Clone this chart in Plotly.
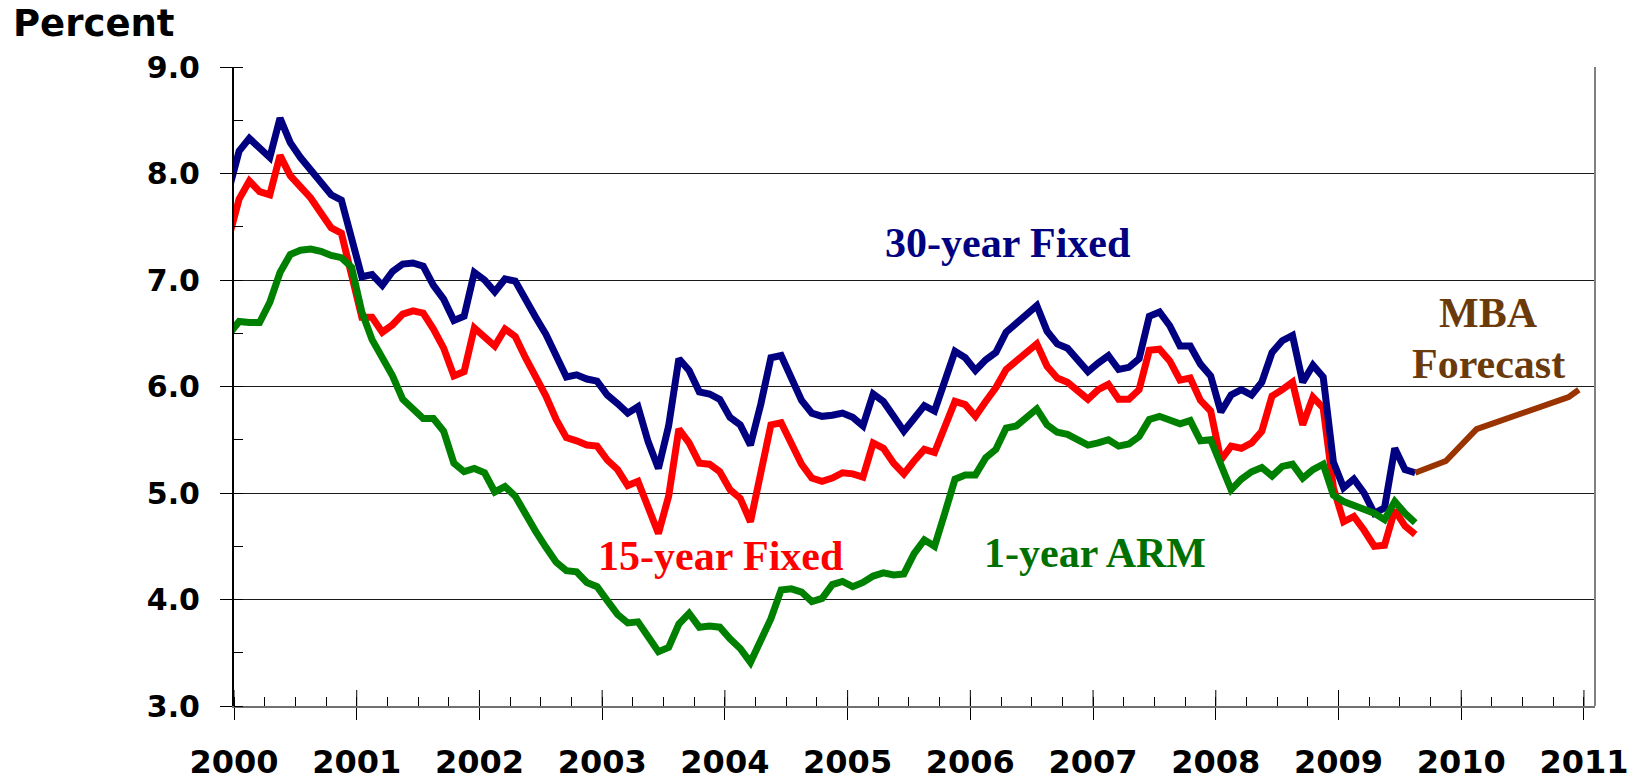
import plotly.graph_objects as go

# ---------------- data (monthly averages, Dec 1999 .. Aug 2009) ----------------
start_year = 1999
start_month = 12  # first value is December 1999 (clipped by the axis)

rate_30yr = [7.85,
    8.21, 8.33, 8.24, 8.15, 8.52, 8.29, 8.15, 8.03, 7.91, 7.80, 7.75, 7.38,
    7.03, 7.05, 6.95, 7.08, 7.15, 7.16, 7.13, 6.95, 6.82, 6.62, 6.66, 7.07,
    7.00, 6.89, 7.01, 6.99, 6.81, 6.65, 6.49, 6.29, 6.09, 6.11, 6.07, 6.05,
    5.92, 5.84, 5.75, 5.81, 5.48, 5.23, 5.63, 6.26, 6.15, 5.95, 5.93, 5.88,
    5.71, 5.64, 5.45, 5.83, 6.27, 6.29, 6.06, 5.87, 5.75, 5.72, 5.73, 5.75,
    5.71, 5.63, 5.93, 5.86, 5.72, 5.58, 5.70, 5.82, 5.77, 6.07, 6.33, 6.27,
    6.15, 6.25, 6.32, 6.51, 6.60, 6.68, 6.76, 6.52, 6.40, 6.36, 6.24, 6.14,
    6.22, 6.29, 6.16, 6.18, 6.26, 6.66, 6.70, 6.57, 6.38, 6.38, 6.21, 6.10,
    5.76, 5.92, 5.97, 5.92, 6.04, 6.32, 6.43, 6.48, 6.04, 6.20, 6.09, 5.29,
    5.05, 5.13, 5.00, 4.81, 4.86, 5.42, 5.22, 5.19]

rate_15yr = [7.40,
    7.76, 7.93, 7.83, 7.80, 8.17, 7.98, 7.88, 7.77, 7.63, 7.49, 7.44, 7.04,
    6.65, 6.65, 6.51, 6.58, 6.68, 6.71, 6.69, 6.54, 6.36, 6.10, 6.14, 6.55,
    6.47, 6.38, 6.54, 6.47, 6.27, 6.10, 5.91, 5.69, 5.52, 5.49, 5.45, 5.44,
    5.31, 5.22, 5.07, 5.11, 4.87, 4.62, 4.97, 5.60, 5.47, 5.28, 5.27, 5.20,
    5.03, 4.95, 4.73, 5.19, 5.64, 5.66, 5.46, 5.27, 5.14, 5.11, 5.14, 5.19,
    5.18, 5.15, 5.47, 5.42, 5.28, 5.18, 5.30, 5.41, 5.38, 5.63, 5.86, 5.83,
    5.72, 5.86, 5.99, 6.16, 6.23, 6.32, 6.40, 6.19, 6.08, 6.04, 5.96, 5.88,
    5.97, 6.02, 5.88, 5.88, 5.97, 6.34, 6.35, 6.24, 6.06, 6.08, 5.87, 5.77,
    5.31, 5.44, 5.42, 5.47, 5.58, 5.91, 5.97, 6.04, 5.64, 5.90, 5.80, 5.05,
    4.73, 4.78, 4.65, 4.50, 4.51, 4.84, 4.69, 4.61]

rate_arm = [6.49,
    6.61, 6.60, 6.60, 6.79, 7.07, 7.24, 7.28, 7.29, 7.27, 7.23, 7.21, 7.12,
    6.70, 6.44, 6.27, 6.10, 5.88, 5.80, 5.70, 5.70, 5.58, 5.28, 5.20, 5.23,
    5.19, 5.01, 5.06, 4.97, 4.79, 4.64, 4.49, 4.35, 4.27, 4.26, 4.16, 4.12,
    3.99, 3.86, 3.78, 3.79, 3.65, 3.51, 3.55, 3.77, 3.87, 3.74, 3.75, 3.74,
    3.63, 3.54, 3.41, 3.60, 3.82, 4.09, 4.10, 4.07, 3.98, 4.01, 4.14, 4.17,
    4.12, 4.16, 4.22, 4.25, 4.23, 4.24, 4.43, 4.56, 4.50, 4.81, 5.13, 5.17,
    5.17, 5.33, 5.41, 5.61, 5.63, 5.71, 5.79, 5.64, 5.57, 5.55, 5.50, 5.45,
    5.47, 5.50, 5.44, 5.46, 5.53, 5.69, 5.72, 5.68, 5.65, 5.68, 5.49, 5.50,
    5.27, 5.03, 5.13, 5.20, 5.24, 5.16, 5.25, 5.27, 5.14, 5.22, 5.27, 4.98,
    4.92, 4.88, 4.85, 4.81, 4.75, 4.92, 4.81, 4.72]

# MBA forecast (month index counted from Jan 2000 = 0)
forecast_months = [115, 118, 121, 124, 127, 130, 131]
forecast_rate = [5.19, 5.30, 5.60, 5.70, 5.80, 5.90, 5.97]

year_ticks = [2000, 2001, 2002, 2003, 2004, 2005, 2006, 2007, 2008, 2009, 2010, 2011]
year_labels = [str(y) for y in year_ticks]
y_ticks = [3, 4, 5, 6, 7, 8, 9]
y_labels = ["3.0", "4.0", "5.0", "6.0", "7.0", "8.0", "9.0"]

# ---------------- positions (mid-month, decimal years) ----------------
def month_to_x(m):
    return 2000 + (m + 0.5) / 12.0

first_m = (start_year - 2000) * 12 + (start_month - 1)
x_hist = [month_to_x(first_m + i) for i in range(len(rate_30yr))]
x_fc = [month_to_x(m) for m in forecast_months]

NAVY = "#000080"
RED = "#FF0000"
GREEN = "#008000"
BROWN_LINE = "#993300"
BROWN_TEXT = "#6B3A0B"

fig = go.Figure()
fig.add_trace(go.Scatter(x=x_hist, y=rate_15yr, mode="lines", name="15-year Fixed",
                         line=dict(color=RED, width=7)))
fig.add_trace(go.Scatter(x=x_hist, y=rate_30yr, mode="lines", name="30-year Fixed",
                         line=dict(color=NAVY, width=7)))
fig.add_trace(go.Scatter(x=x_hist, y=rate_arm, mode="lines", name="1-year ARM",
                         line=dict(color=GREEN, width=7)))
fig.add_trace(go.Scatter(x=x_fc, y=forecast_rate, mode="lines", name="MBA Forecast",
                         line=dict(color=BROWN_LINE, width=6)))

L, R, T, B = 234, 53, 67, 75
W, H = 1648, 781
plot_h = H - T - B
plot_w = W - L - R

fig.update_layout(
    width=W, height=H, autosize=False,
    margin=dict(l=L, r=R, t=T, b=B, pad=0),
    paper_bgcolor="white", plot_bgcolor="white",
    showlegend=False,
    xaxis=dict(
        range=[2000, 2011.09], tickmode="array", tickvals=year_ticks, ticktext=year_labels,
        ticks="outside", ticklen=12, tickwidth=1, tickcolor="black",
        showgrid=False, zeroline=False, automargin=False,
        showline=True, linecolor="#707070", linewidth=2,
        tickfont=dict(family="DejaVu Sans", size=32, color="black", weight="bold"),
        ticklabelstandoff=15,
        minor=dict(tickmode="linear", tick0=2000, dtick=0.25, ticks="inside",
                   ticklen=9, tickcolor="black", tickwidth=1, showgrid=False),
    ),
    yaxis=dict(
        range=[3, 9], tickmode="array", tickvals=y_ticks, ticktext=y_labels,
        ticks="outside", ticklen=12, tickwidth=1, tickcolor="black",
        showgrid=True, gridcolor="#1a1a1a", gridwidth=1, zeroline=False, automargin=False,
        showline=True, linecolor="black", linewidth=2,
        tickfont=dict(family="DejaVu Sans", size=30, color="black", weight="bold"),
        ticklabelstandoff=14,
        minor=dict(tickmode="linear", tick0=3, dtick=0.5, ticks="inside",
                   ticklen=9, tickcolor="black", tickwidth=1, showgrid=False),
    ),
)

# inner part of the year tick marks (they cross the axis) and right frame edge
shapes = []
for yv in year_ticks:
    shapes.append(dict(type="line", xref="x", yref="paper", x0=yv, x1=yv,
                       y0=0, y1=16 / plot_h, line=dict(color="black", width=1)))
shapes.append(dict(type="line", xref="paper", yref="paper", x0=1, x1=1, y0=0, y1=1,
                   line=dict(color="#808080", width=2)))
fig.update_layout(shapes=shapes)

def px_x(px):
    return (px - L) / plot_w

def px_y(py):
    return (H - B - py) / plot_h

serif = dict(family="Liberation Serif", size=42, weight="bold")
annots = [
    dict(text="Percent", x=px_x(11), y=px_y(24), xanchor="left", yanchor="middle",
         font=dict(family="DejaVu Sans", size=37, color="black", weight="bold")),
    dict(text="30-year Fixed", x=px_x(1007), y=px_y(243), font=dict(color=NAVY, **serif)),
    dict(text="15-year Fixed", x=px_x(720), y=px_y(556), font=dict(color=RED, **serif)),
    dict(text="1-year ARM", x=px_x(1095), y=px_y(553), font=dict(color="#007000", **serif)),
    dict(text="MBA", x=px_x(1488), y=px_y(313), font=dict(color=BROWN_TEXT, **serif)),
    dict(text="Forecast", x=px_x(1488), y=px_y(364), font=dict(color=BROWN_TEXT, **serif)),
]
for a in annots:
    a.setdefault("xanchor", "center")
    a.setdefault("yanchor", "middle")
    a.update(xref="paper", yref="paper", showarrow=False)
fig.update_layout(annotations=annots)

fig.write_html("out.html", config={"displayModeBar": False},
               post_script="document.body.style.margin='0';")
